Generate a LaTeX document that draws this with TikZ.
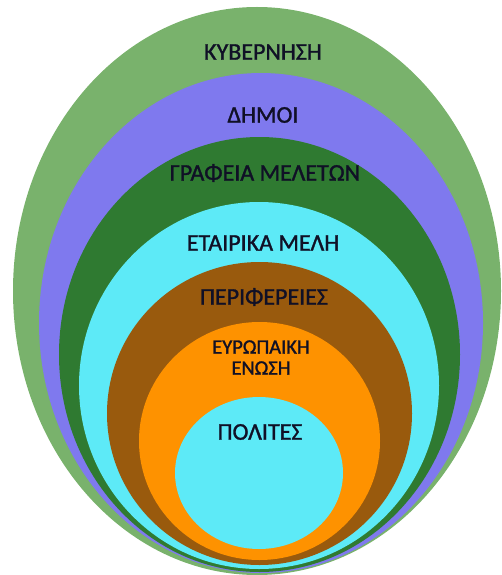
\documentclass[tikz,border=0pt]{standalone}
\usepackage{fontspec}
\setmainfont{Carlito}
\newfontfamily\lblfont[FakeBold=1.3]{Carlito}
\definecolor{cOuter}{HTML}{79B26C}
\definecolor{cPurple}{HTML}{7F79EE}
\definecolor{cDark}{HTML}{2F7A31}
\definecolor{cCyan}{HTML}{5DEAF7}
\definecolor{cBrown}{HTML}{995A0D}
\definecolor{cOrange}{HTML}{FE9200}
\definecolor{cText}{HTML}{101026}
\begin{document}
\begin{tikzpicture}[x=1pt,y=-1pt,
  lbl/.style={text=cText,font=\lblfont\fontsize{24}{28}\selectfont,inner sep=0pt,align=center},
  lbls/.style={text=cText,font=\lblfont\fontsize{20.5}{21}\selectfont,inner sep=0pt,align=center}]
\useasboundingbox (0,0) rectangle (501,575);
\fill[cOuter]  (257,291)   ellipse [x radius=244,   y radius=284];
\fill[cPurple] (261,323)   ellipse [x radius=222,   y radius=250];
\fill[cDark]   (259.5,354.5) ellipse [x radius=200.5, y radius=217.5];
\fill[cCyan]   (259,385.5) ellipse [x radius=180,   y radius=183.5];
\fill[cBrown]  (259.5,413.5) ellipse [x radius=152.5, y radius=151.5];
\fill[cOrange] (259.5,441) ellipse [x radius=120.5, y radius=119];
\fill[cCyan]   (259,473)   ellipse [x radius=84,    y radius=76];
\node[lbl] (gov) at (263,52) {ΚΥΒΕΡΝΗΣΗ};
\node[lbl] (dim) at (263,115) {ΔΗΜΟΙ};
\node[lbl] (gra) at (265,173) {ΓΡΑΦΕΙΑ ΜΕΛΕΤΩΝ};
\node[lbl] (eta) at (263,243) {ΕΤΑΙΡΙΚΑ ΜΕΛΗ};
\node[lbl] (per) at (264,297) {ΠΕΡΙΦΕΡΕΙΕΣ};
\node[lbls] (eur) at (261,357.5) {ΕΥΡΩΠΑΙΚΗ\\ΕΝΩΣΗ};
\node[lbl] (pol) at (260,432) {ΠΟΛΙΤΕΣ};
\end{tikzpicture}
\end{document}
